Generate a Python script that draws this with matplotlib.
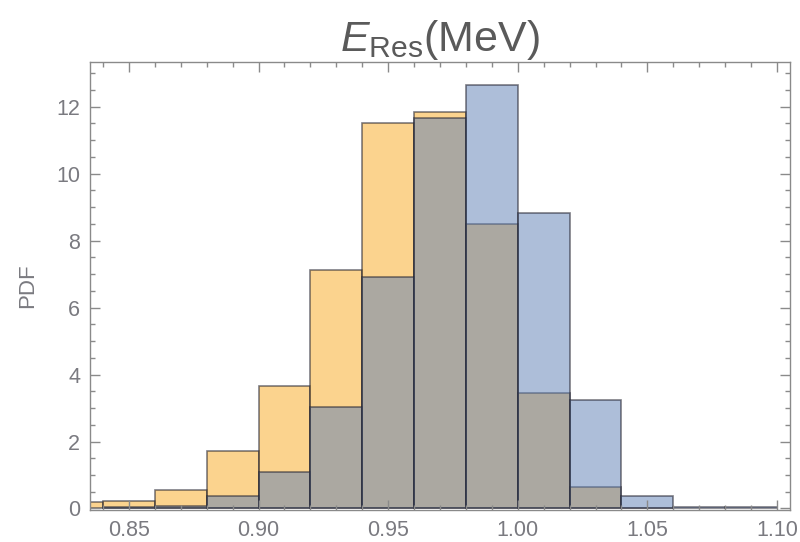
import numpy as np
import matplotlib
matplotlib.use("Agg")
import matplotlib.pyplot as plt
from matplotlib.ticker import MultipleLocator

# bin left edges (width 0.02)
bin_left = [0.82, 0.84, 0.86, 0.88, 0.90, 0.92, 0.94, 0.96, 0.98, 1.00, 1.02, 1.04, 1.06, 1.08]
bin_width = 0.02

# PDF values
orange_pdf = [0.18, 0.22, 0.55, 1.72, 3.66, 7.13, 11.52, 11.85, 8.49, 3.46, 0.63, 0.02, 0.0, 0.0]
blue_pdf = [0.0, 0.03, 0.08, 0.36, 1.09, 3.04, 6.91, 11.65, 12.65, 8.81, 3.25, 0.37, 0.05, 0.04]

x_ticks = [0.85, 0.90, 0.95, 1.00, 1.05, 1.10]
y_ticks = [0, 2, 4, 6, 8, 10, 12]

plt.rcParams['font.family'] = ['Liberation Sans', 'DejaVu Sans']
plt.rcParams['mathtext.fontset'] = 'custom'
plt.rcParams['mathtext.rm'] = 'Liberation Sans'
plt.rcParams['mathtext.it'] = 'Liberation Sans:italic'

frame_col = '#8a8a8a'
text_col = '#7a7a80'

fig = plt.figure(figsize=(8.0, 5.42), dpi=100)
ax = fig.add_axes([90 / 800, 32 / 542, 700 / 800, 448 / 542])


def draw_hist(values, face):
    lefts = np.array(bin_left)
    vals = np.array(values)
    keep = vals > 0
    ax.bar(lefts[keep], vals[keep], width=bin_width, align='edge',
           facecolor=face, edgecolor=(0.15, 0.15, 0.2, 0.6), linewidth=1.2)


draw_hist(orange_pdf, (249 / 255, 168 / 255, 30 / 255, 0.5))
draw_hist(blue_pdf, (93 / 255, 127 / 255, 180 / 255, 0.5))

ax.set_xlim(0.835, 1.105)
ax.set_ylim(-0.045, 13.33)
ax.set_xticks(x_ticks)
ax.set_xticklabels(['%.2f' % v for v in x_ticks])
ax.set_yticks(y_ticks)
ax.xaxis.set_minor_locator(MultipleLocator(0.01))
ax.yaxis.set_minor_locator(MultipleLocator(0.5))

ax.tick_params(which='both', direction='in', top=True, right=True,
               color=frame_col, labelcolor=text_col, labelsize=15.5, width=1)
ax.tick_params(which='major', length=7, pad=7)
ax.tick_params(which='minor', length=3.5)

for sp in ax.spines.values():
    sp.set_color(frame_col)
    sp.set_linewidth(1)

ax.set_ylabel('PDF', color=text_col, fontsize=16, labelpad=13)
ax.set_title(r'$\mathit{E}_{\mathrm{Res}}$(MeV)', color='#5a5a5a', fontsize=31, pad=2)

fig.savefig('out.png', dpi=100)
